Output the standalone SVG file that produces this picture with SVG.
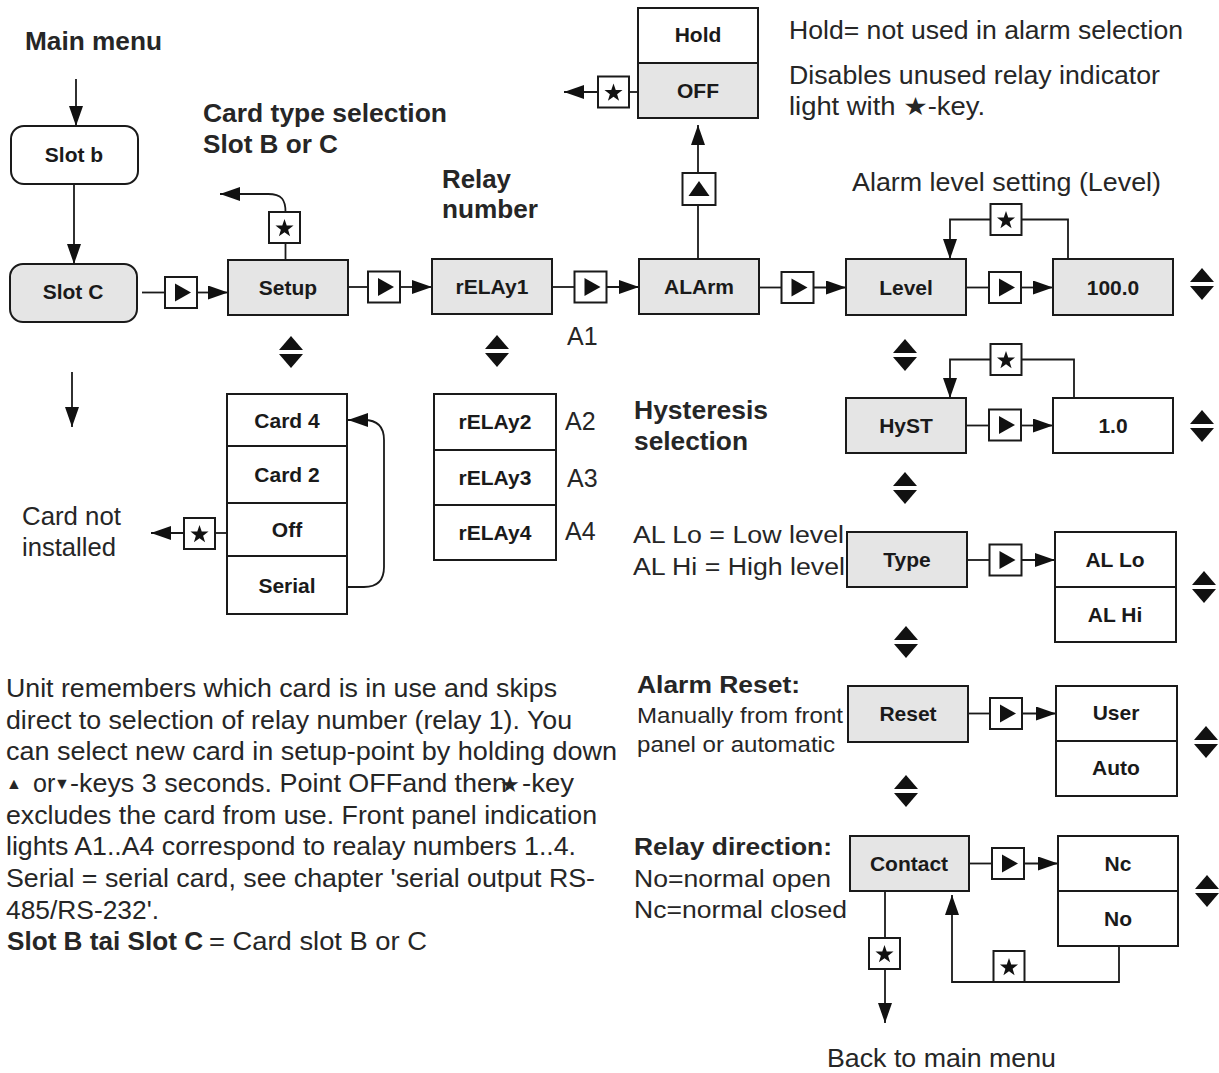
<svg xmlns="http://www.w3.org/2000/svg" xmlns:xlink="http://www.w3.org/1999/xlink" width="1219" height="1073" viewBox="0 0 1219 1073">
<style>
.g{fill:#e5e5e5;stroke:#1a1a1a;stroke-width:2}
.w{fill:#fff;stroke:#1a1a1a;stroke-width:2}
.c{fill:none;stroke:#1a1a1a;stroke-width:1.8}
.k{fill:#111}
.t{font-family:"Liberation Sans",Arial,sans-serif;font-weight:bold;font-size:21px;fill:#1a1a1a;text-anchor:middle}
.h{font-family:"Liberation Sans",Arial,sans-serif;font-weight:bold;font-size:25px;fill:#262626}
.r{font-family:"Liberation Sans","DejaVu Sans",Arial,sans-serif;font-size:25px;fill:#262626}
.s{font-family:"Liberation Sans","DejaVu Sans",Arial,sans-serif;font-size:23px;fill:#262626}
.m{font-size:22px}
.tiny{font-size:16px}
</style>
<defs>
<marker id="ah" markerUnits="userSpaceOnUse" markerWidth="20" markerHeight="14" viewBox="0 0 20 14" refX="20" refY="7" orient="auto"><path d="M0,0 L20,7 L0,14 z" fill="#111"/></marker>
<g id="bR"><rect x="-16" y="-15.5" width="32" height="31" class="w"/><polygon points="-6,-9 10,0 -6,9" class="k"/></g>
<g id="bU"><rect x="-16" y="-16" width="33" height="32" class="w"/><polygon points="-10,7 11,7 0.5,-8" class="k"/></g>
<g id="bS"><rect x="-15.5" y="-15.5" width="31" height="31" class="w"/><polygon transform="translate(0,1)" points="0,-9.5 2.234,-3.074 9.035,-2.936 3.614,1.174 5.584,7.686 0,3.8 -5.584,7.686 -3.614,1.174 -9.035,-2.936 -2.234,-3.074" class="k"/></g>
<g id="ud"><polygon points="0,-16 12,-2 -12,-2" class="k"/><polygon points="-12,2 12,2 0,16" class="k"/></g>
</defs>
<rect width="1219" height="1073" fill="#fff"/>

<g id="connectors">
<path class="c" d="M76,79 V126" marker-end="url(#ah)"/>
<path class="c" d="M74,184 V264" marker-end="url(#ah)"/>
<path class="c" d="M142,292.5 H165"/>
<path class="c" d="M197,292.5 H228" marker-end="url(#ah)"/>
<path class="c" d="M285.5,260 V243"/>
<path class="c" d="M285.5,212 C285.5,200 282,194 268,194 H220" marker-end="url(#ah)"/>
<path class="c" d="M348,287 H368"/>
<path class="c" d="M400,287 H432" marker-end="url(#ah)"/>
<path class="c" d="M552,287 H574.5"/>
<path class="c" d="M606.5,287 H639" marker-end="url(#ah)"/>
<path class="c" d="M759,287.5 H781.5"/>
<path class="c" d="M813.5,287.5 H846" marker-end="url(#ah)"/>
<path class="c" d="M966,287.5 H989"/>
<path class="c" d="M1021,287.5 H1053" marker-end="url(#ah)"/>
<path class="c" d="M1068,259 V219.5 H1021"/>
<path class="c" d="M991,219.5 H950 V259" marker-end="url(#ah)"/>
<path class="c" d="M698,259 V205"/>
<path class="c" d="M698,173 V125" marker-end="url(#ah)"/>
<path class="c" d="M638,92 H629"/>
<path class="c" d="M598,92 H564" marker-end="url(#ah)"/>
<path class="c" d="M966,425.5 H989"/>
<path class="c" d="M1021,425.5 H1053" marker-end="url(#ah)"/>
<path class="c" d="M1074,398 V359.5 H1021"/>
<path class="c" d="M991,359.5 H950 V398" marker-end="url(#ah)"/>
<path class="c" d="M967,560 H989"/>
<path class="c" d="M1022,560 H1055" marker-end="url(#ah)"/>
<path class="c" d="M968,713.5 H990"/>
<path class="c" d="M1022,713.5 H1056" marker-end="url(#ah)"/>
<path class="c" d="M969,863.5 H992"/>
<path class="c" d="M1024,863.5 H1058" marker-end="url(#ah)"/>
<path class="c" d="M885,891 V938"/>
<path class="c" d="M885,969 V1023" marker-end="url(#ah)"/>
<path class="c" d="M1119,946 V982 H952 V895" marker-end="url(#ah)"/>
<path class="c" d="M348,587 H364 Q384,587 384,567 V440 Q384,420 364,420 H348" marker-end="url(#ah)"/>
<path class="c" d="M227,533 H215"/>
<path class="c" d="M184,533 H151" marker-end="url(#ah)"/>
<path class="c" d="M72,372 V427" marker-end="url(#ah)"/>
<use xlink:href="#bR" x="181" y="292.5"/>
<use xlink:href="#bR" x="384" y="287"/>
<use xlink:href="#bR" x="590.5" y="287"/>
<use xlink:href="#bR" x="797.5" y="287.5"/>
<use xlink:href="#bR" x="1005" y="287.5"/>
<use xlink:href="#bR" x="1005" y="425"/>
<use xlink:href="#bR" x="1005.5" y="560"/>
<use xlink:href="#bR" x="1006" y="713.5"/>
<use xlink:href="#bR" x="1008" y="863.5"/>
<use xlink:href="#bU" x="698.5" y="189"/>
<use xlink:href="#bS" x="284.5" y="227.5"/>
<use xlink:href="#bS" x="613.5" y="92"/>
<use xlink:href="#bS" x="1006" y="219.5"/>
<use xlink:href="#bS" x="1006" y="359.5"/>
<use xlink:href="#bS" x="199.5" y="533.5"/>
<use xlink:href="#bS" x="884.5" y="953.5"/>
<use xlink:href="#bS" x="1009" y="966.5"/>
</g>

<g id="updown-icons">
<use xlink:href="#ud" x="1202" y="284"/>
<use xlink:href="#ud" x="905" y="355"/>
<use xlink:href="#ud" x="1202" y="426"/>
<use xlink:href="#ud" x="905" y="488"/>
<use xlink:href="#ud" x="1204" y="587"/>
<use xlink:href="#ud" x="906" y="642"/>
<use xlink:href="#ud" x="1206" y="742"/>
<use xlink:href="#ud" x="906" y="791"/>
<use xlink:href="#ud" x="1207" y="891"/>
<use xlink:href="#ud" x="291" y="352"/>
<use xlink:href="#ud" x="497" y="351"/>
</g>

<g id="slot-b"><rect x="11" y="126" width="127" height="58" rx="13" class="w"/><text class="t" x="74" y="162">Slot b</text></g>
<g id="slot-c"><rect x="10" y="264" width="127" height="58" rx="13" class="g"/><text class="t" x="73" y="299">Slot C</text></g>
<g id="setup"><rect x="228" y="260" width="120" height="55" class="g"/><text class="t" x="288" y="295">Setup</text></g>
<g id="relay1"><rect x="432" y="259" width="120" height="55" class="g"/><text class="t" x="492" y="294">rELAy1</text></g>
<g id="alarm"><rect x="639" y="259" width="120" height="55" class="g"/><text class="t" x="699" y="294">ALArm</text></g>
<g id="hold-off"><rect x="638" y="8" width="120" height="55" class="w"/><rect x="638" y="63" width="120" height="55" class="g"/><text class="t" x="698" y="42">Hold</text><text class="t" x="698" y="98">OFF</text></g>
<g id="level"><rect x="846" y="259" width="120" height="56" class="g"/><text class="t" x="906" y="295">Level</text></g>
<g id="level-value"><rect x="1053" y="259" width="120" height="56" class="g"/><text class="t" x="1113" y="295">100.0</text></g>
<g id="hyst"><rect x="846" y="398" width="120" height="55" class="g"/><text class="t" x="906" y="433">HyST</text></g>
<g id="hyst-value"><rect x="1053" y="398" width="120" height="55" class="w"/><text class="t" x="1113" y="433">1.0</text></g>
<g id="type"><rect x="847" y="532" width="120" height="55" class="g"/><text class="t" x="907" y="567">Type</text></g>
<g id="type-values"><rect x="1055" y="532" width="121" height="55" class="w"/><rect x="1055" y="587" width="121" height="55" class="w"/><text class="t" x="1115" y="567">AL Lo</text><text class="t" x="1115" y="622">AL Hi</text></g>
<g id="reset"><rect x="848" y="686" width="120" height="56" class="g"/><text class="t" x="908" y="721">Reset</text></g>
<g id="reset-values"><rect x="1056" y="686" width="121" height="55" class="w"/><rect x="1056" y="741" width="121" height="55" class="w"/><text class="t" x="1116" y="720">User</text><text class="t" x="1116" y="775">Auto</text></g>
<g id="contact"><rect x="850" y="836" width="119" height="55" class="g"/><text class="t" x="909" y="871">Contact</text></g>
<g id="contact-values"><rect x="1058" y="836" width="120" height="55" class="w"/><rect x="1058" y="891" width="120" height="55" class="w"/><text class="t" x="1118" y="871">Nc</text><text class="t" x="1118" y="926">No</text></g>
<g id="card-list"><rect x="227" y="394" width="120" height="52" class="w"/><rect x="227" y="446" width="120" height="57" class="w"/><rect x="227" y="503" width="120" height="53" class="w"/><rect x="227" y="556" width="120" height="58" class="w"/>
<text class="t" x="287" y="428">Card 4</text><text class="t" x="287" y="482">Card 2</text><text class="t" x="287" y="537">Off</text><text class="t" x="287" y="593">Serial</text></g>
<g id="relay-list"><rect x="434" y="394" width="122" height="56" class="w"/><rect x="434" y="450" width="122" height="55" class="w"/><rect x="434" y="505" width="122" height="55" class="w"/>
<text class="t" x="495" y="429">rELAy2</text><text class="t" x="495" y="485">rELAy3</text><text class="t" x="495" y="540">rELAy4</text></g>

<g id="labels">
<text class="h" x="25" y="50" textLength="137" lengthAdjust="spacingAndGlyphs">Main menu</text>
<text class="h" x="203" y="122" textLength="244" lengthAdjust="spacingAndGlyphs">Card type selection</text>
<text class="h" x="203" y="153" textLength="135" lengthAdjust="spacingAndGlyphs">Slot B or C</text>
<text class="h" x="442" y="188" textLength="69" lengthAdjust="spacingAndGlyphs">Relay</text>
<text class="h" x="442" y="218" textLength="96" lengthAdjust="spacingAndGlyphs">number</text>
<text class="r" x="789" y="39" textLength="394" lengthAdjust="spacingAndGlyphs">Hold= not used in alarm selection</text>
<text class="r" x="789" y="84" textLength="371" lengthAdjust="spacingAndGlyphs">Disables unused relay indicator</text>
<text class="r" x="789" y="115" textLength="196" lengthAdjust="spacingAndGlyphs">light with  ★-key.</text>
<text class="r" x="852" y="191" textLength="309" lengthAdjust="spacingAndGlyphs">Alarm level setting (Level)</text>
<text class="r" x="567" y="345">A1</text>
<text class="r" x="565" y="430">A2</text>
<text class="r" x="567" y="487">A3</text>
<text class="r" x="565" y="540">A4</text>
<text class="h" x="634" y="419" textLength="134" lengthAdjust="spacingAndGlyphs">Hysteresis</text>
<text class="h" x="634" y="450" textLength="114" lengthAdjust="spacingAndGlyphs">selection</text>
<text class="r" x="22" y="525" textLength="99" lengthAdjust="spacingAndGlyphs">Card not</text>
<text class="r" x="22" y="556" textLength="94" lengthAdjust="spacingAndGlyphs">installed</text>
<text class="s" x="633" y="543" textLength="211" lengthAdjust="spacingAndGlyphs">AL Lo = Low level</text>
<text class="s" x="633" y="575" textLength="212" lengthAdjust="spacingAndGlyphs">AL Hi = High level</text>
<text class="h" x="637" y="693" style="font-size:23px" textLength="163" lengthAdjust="spacingAndGlyphs">Alarm Reset:</text>
<text class="s m" x="637" y="723" textLength="206" lengthAdjust="spacingAndGlyphs">Manually from front</text>
<text class="s m" x="637" y="752" textLength="198" lengthAdjust="spacingAndGlyphs">panel or automatic</text>
<text class="h" x="634" y="855" style="font-size:24px" textLength="198" lengthAdjust="spacingAndGlyphs">Relay direction:</text>
<text class="s" x="634" y="887" textLength="197" lengthAdjust="spacingAndGlyphs">No=normal open</text>
<text class="s" x="634" y="918" textLength="213" lengthAdjust="spacingAndGlyphs">Nc=normal closed</text>
<text class="r" x="827" y="1067" textLength="229" lengthAdjust="spacingAndGlyphs">Back to main menu</text>
</g>

<g id="note">
<text class="r" x="6" y="697" textLength="551" lengthAdjust="spacingAndGlyphs">Unit remembers which card is in use and skips</text>
<text class="r" x="6" y="728.5" textLength="566" lengthAdjust="spacingAndGlyphs">direct to selection of relay number (relay 1). You</text>
<text class="r" x="6" y="760" textLength="611" lengthAdjust="spacingAndGlyphs">can select new card  in setup-point by holding down</text>
<text class="r tiny" x="6" y="789">▲</text>
<text class="r" x="33" y="792">or</text>
<text class="r tiny" x="54" y="789">▼</text>
<text class="r" x="70" y="792" textLength="437" lengthAdjust="spacingAndGlyphs">-keys 3 seconds. Point OFFand then</text>
<text class="r m" x="500" y="792">★</text>
<text class="r" x="522" y="792" textLength="52" lengthAdjust="spacingAndGlyphs">-key</text>
<text class="r" x="6" y="823.5" textLength="591" lengthAdjust="spacingAndGlyphs">excludes the card from use. Front panel indication</text>
<text class="r" x="6" y="855" textLength="570" lengthAdjust="spacingAndGlyphs">lights A1..A4 correspond to realay numbers 1..4.</text>
<text class="r" x="6" y="887" textLength="589" lengthAdjust="spacingAndGlyphs">Serial = serial card, see chapter 'serial output RS-</text>
<text class="r" x="6" y="918.5" textLength="153" lengthAdjust="spacingAndGlyphs">485/RS-232'.</text>
<text class="h" x="7" y="950" textLength="196" lengthAdjust="spacingAndGlyphs">Slot B tai Slot C</text>
<text class="r" x="209" y="950" textLength="218" lengthAdjust="spacingAndGlyphs">= Card slot B or C</text>
</g>
</svg>
